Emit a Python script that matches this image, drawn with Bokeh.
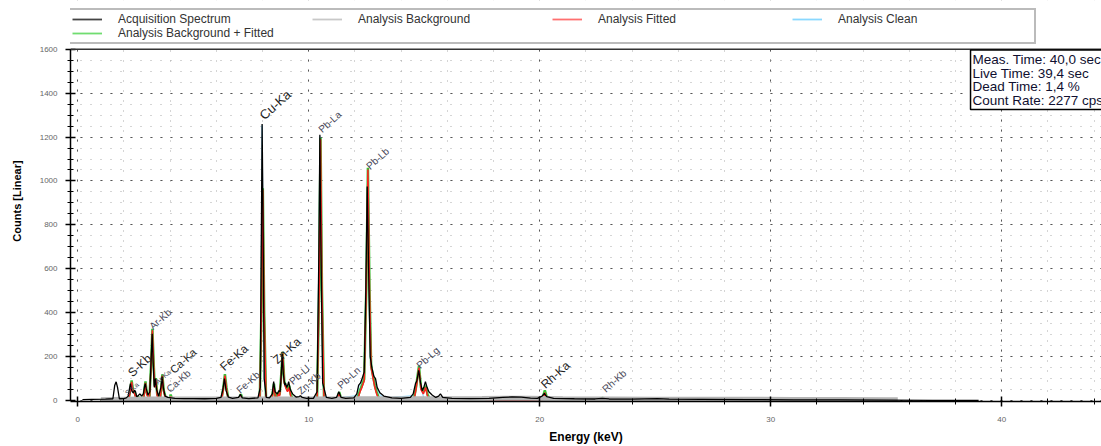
from bokeh.plotting import figure
from bokeh.models import (Range1d, Legend, LegendItem, Label, Span, ColumnDataSource,
                          SingleIntervalTicker)
from bokeh.core.properties import value
from bokeh.embed import file_html
from bokeh.resources import INLINE

# ---------------- measured spectrum (energy in keV, counts) ----------------
acq_keV = [
    0.20, 0.60, 1.20, 1.52, 1.60, 1.66, 1.72, 1.80,
    2.00, 2.10, 2.18, 2.24, 2.28, 2.33, 2.40, 2.46, 2.50, 2.55, 2.62, 2.68, 2.71, 2.76,
    2.84, 2.89, 2.92, 2.96, 3.04, 3.12, 3.18, 3.22, 3.26, 3.31, 3.36, 3.41, 3.50, 3.60,
    3.65, 3.70, 3.78, 3.90, 4.05, 4.20, 4.60,
    5.00, 5.50, 6.00, 6.20, 6.28, 6.35, 6.42, 6.52, 6.70, 6.96, 7.04, 7.12, 7.40, 7.80,
    7.90, 7.95, 7.98, 8.02, 8.07, 8.16, 8.30, 8.42, 8.48, 8.54, 8.64, 8.70, 8.76, 8.81,
    8.85, 8.90, 8.96, 8.99, 9.04, 9.09, 9.13, 9.20, 9.30, 9.45, 9.58, 9.64, 9.72, 9.90,
    10.20, 10.36, 10.44, 10.48, 10.52, 10.60, 10.76, 11.00, 11.20, 11.30, 11.40, 11.60, 11.95,
    12.08, 12.16, 12.24, 12.31, 12.40, 12.47, 12.53, 12.59, 12.66, 12.74, 12.82, 12.89,
    12.96, 13.08, 13.25, 13.60,
    14.00, 14.40, 14.52, 14.62, 14.68, 14.76, 14.84, 14.91, 14.98, 15.05, 15.12, 15.20,
    15.34, 15.50, 15.62, 15.70, 15.80, 16.20,
    17.00, 17.80, 18.40, 18.80, 19.20, 19.60, 19.90, 20.10, 20.20, 20.30, 20.60, 21.50,
    22.40, 22.70, 23.00, 24.00, 25.10, 25.60, 27.00, 29.00, 31.00, 33.00, 35.00, 37.00, 39.00,
]
acq_counts = [
    4, 5, 6, 8, 70, 85, 60, 8,
    9, 12, 20, 55, 77, 45, 35, 47, 40, 18, 22, 30, 28, 20,
    30, 65, 77, 55, 25, 40, 200, 304, 180, 60, 100, 50, 20, 60,
    109, 60, 20, 14, 12, 10, 9,
    9, 8, 10, 14, 50, 100, 45, 15, 10, 14, 28, 12, 9, 12,
    60, 800, 1260, 820, 100, 14, 12, 30, 86, 40, 30, 45, 40, 120,
    213, 120, 70, 80, 60, 70, 86, 50, 30, 16, 18, 22, 14, 10,
    10, 40, 700, 1210, 760, 80, 14, 10, 14, 40, 14, 10, 12,
    30, 70, 80, 100, 130, 500, 975, 600, 200, 145, 110, 100,
    60, 35, 20, 12,
    10, 14, 30, 77, 90, 137, 80, 45, 60, 86, 60, 40,
    25, 14, 20, 30, 14, 10,
    9, 10, 14, 16, 15, 11, 10, 20, 32, 18, 10, 8,
    7, 10, 7, 6, 9, 6, 5, 4, 3, 3, 2, 1, 0,
]

# ---------------- analysis background ----------------
bkg_keV = [1.0, 1.5, 2.0, 3.0, 4.0, 6.0, 8.0, 10.0, 12.0, 14.0, 16.0, 17.5, 18.5,
           19.5, 21.0, 23.0, 25.0, 27.0, 29.0, 31.0, 33.0, 35.0, 35.5]
bkg_counts = [4, 5, 6, 7, 7, 7, 7, 7, 8, 8, 8, 9, 10,
              10, 8, 7, 6, 6, 6, 5, 5, 4, 4]

# ---------------- fitted peaks ----------------
fit_keV = [
    1.00, 2.20, 2.27, 2.33, 2.39, 2.46, 2.52, 2.84, 2.88, 2.93, 2.98, 3.10, 3.17, 3.23,
    3.29, 3.33, 3.38, 3.44, 3.56, 3.61, 3.66, 3.72, 3.82, 3.98, 4.02, 4.08,
    6.22, 6.30, 6.37, 6.44, 6.52, 6.98, 7.06, 7.14,
    7.88, 7.95, 8.01, 8.07, 8.15, 8.40, 8.49, 8.57, 8.62, 8.68, 8.74, 8.80, 8.87, 8.94,
    9.00, 9.08, 9.15, 9.22, 9.32,
    10.36, 10.45, 10.51, 10.57, 10.66, 11.24, 11.32, 11.40,
    12.10, 12.22, 12.30, 12.40, 12.49, 12.56, 12.63, 12.70, 12.77, 12.86, 12.94, 13.05,
    14.55, 14.64, 14.77, 14.86, 14.96, 15.06, 15.14, 15.24,
    20.12, 20.22, 20.32, 22.60, 22.72, 22.84,
]
fit_counts = [
    0, 0, 40, 85, 40, 30, 10, 0, 40, 80, 30, 0, 150, 320,
    150, 60, 95, 20, 0, 50, 112, 40, 0, 0, 20, 0,
    0, 50, 113, 50, 0, 0, 22, 0,
    0, 400, 960, 400, 0, 0, 70, 0, 10, 30, 20, 100, 215, 80,
    60, 40, 60, 20, 0,
    0, 500, 1190, 500, 0, 0, 30, 0,
    0, 40, 60, 90, 500, 1052, 500, 150, 110, 60, 30, 0,
    0, 50, 150, 50, 30, 60, 20, 0,
    0, 36, 0, 0, 5, 0,
]

# ---------------- background + fitted ----------------
bkgfit_keV = fit_keV + [30.0, 35.0]
bkgfit_counts = [
    3, 7, 47, 92, 47, 37, 17, 7, 47, 87, 37, 7, 157, 327,
    157, 67, 102, 27, 7, 57, 119, 47, 7, 7, 27, 7,
    7, 57, 120, 57, 7, 7, 29, 7,
    7, 407, 967, 407, 7, 7, 77, 7, 17, 37, 27, 107, 222, 87,
    67, 47, 67, 27, 7,
    7, 507, 1197, 507, 7, 8, 38, 8,
    8, 48, 68, 98, 508, 1060, 508, 158, 118, 68, 38, 8,
    8, 58, 158, 58, 38, 68, 28, 8,
    10, 46, 10, 7, 12, 7,
    5, 4,
]

# ---------------- clean spectrum (background removed) ----------------
clean_keV = [1.0, 7.80, 7.90, 7.95, 7.98, 8.02, 8.07, 8.16,
             10.20, 10.36, 10.44, 10.48, 10.52, 10.60, 10.76,
             12.08, 12.16, 12.24, 12.31, 12.40, 12.47, 12.53, 12.59, 12.66, 12.74,
             12.82, 12.89, 12.96, 13.08, 13.25,
             14.52, 14.62, 14.68, 14.76, 14.84, 14.91, 15.00, 35.0]
clean_counts = [0, 5, 53, 793, 1253, 813, 93, 7,
                3, 33, 693, 1203, 753, 73, 7,
                22, 62, 72, 92, 122, 492, 967, 592, 192, 137,
                102, 92, 52, 27, 12,
                22, 69, 82, 129, 72, 37, 5, 0]

# ---------------- emission line markers ----------------
line_names = ["S-Ka", "S-Kb", "Ar-Ka", "Ar-Kb", "Ca-Ka", "Ca-Kb", "Fe-Ka", "Fe-Kb",
              "Cu-Ka", "Zn-Ka", "Pb-Ll", "Zn-Kb", "Pb-La", "Pb-Ln", "Pb-Lb", "Pb-Lg",
              "Rh-Ka", "Rh-Kb"]
line_keV = [2.19, 2.45, 3.50, 3.32, 4.23, 4.06, 6.44, 7.09,
            8.17, 8.73, 9.38, 9.73, 10.64, 11.46, 12.71, 14.88,
            20.33, 22.93]
line_counts = [18, 95, 68, 313, 113, 27, 122, 23,
               1265, 154, 63, 18, 1210, 45, 1043, 136,
               41, 27]
line_font_px = [7, 12, 7, 10, 11, 10, 12, 10,
                13, 12, 10, 10, 10, 10, 10, 10,
                12, 10]

info_lines = ["Meas. Time: 40,0 sec", "Live Time: 39,4 sec",
              "Dead Time: 1,4 %", "Count Rate: 2277 cps"]

FONT = "Liberation Sans"
X0, X1 = -0.316, 44.32
Y0, YTOP, Y1 = -4.5, 1600, 1822
NAN = float("nan")

# the frame reaches the top of the canvas; the band above 1600 counts holds the legend
p = figure(width=1101, height=446, output_backend="svg", toolbar_location=None,
           x_range=Range1d(X0, X1), y_range=Range1d(Y0, Y1),
           min_border_left=70, min_border_right=0, min_border_top=0,
           min_border_bottom=43, outline_line_color=None,
           background_fill_color="white", border_fill_color="white")

# axes
p.xaxis.ticker = SingleIntervalTicker(interval=10, num_minor_ticks=5)
p.yaxis.ticker = SingleIntervalTicker(interval=200, num_minor_ticks=4)
p.xgrid.ticker = p.xaxis.ticker
p.ygrid.ticker = p.yaxis.ticker
p.yaxis.bounds = (0, YTOP)
for ax in (p.xaxis, p.yaxis):
    ax.axis_line_color = "black"
    ax.axis_line_width = 1.5
    ax.major_tick_line_color = "black"
    ax.major_tick_line_width = 1.5
    ax.minor_tick_line_color = "black"
    ax.minor_tick_line_width = 1
    ax.major_tick_in = 5
    ax.major_tick_out = 5
    ax.minor_tick_in = 3
    ax.minor_tick_out = 3
    ax.major_label_text_font = FONT
    ax.major_label_text_font_size = "8px"
    ax.major_label_text_color = "#666666"
    ax.axis_label_text_font = FONT
    ax.axis_label_text_font_style = "bold"
    ax.axis_label_text_color = "black"
p.yaxis.major_label_standoff = 8
p.xaxis.major_label_standoff = 10
p.yaxis.axis_label = "Counts [Linear]"
p.yaxis.axis_label_text_font_size = "11px"
p.yaxis.axis_label_standoff = 14
p.xaxis.axis_label = "Energy (keV)"
p.xaxis.axis_label_text_font_size = "12px"
p.xaxis.axis_label_standoff = 5

# dotted grid
for g in (p.xgrid, p.ygrid):
    g.grid_line_color = "#555555"
    g.grid_line_dash = "2 8"
    g.grid_line_width = 1
    g.minor_grid_line_color = "#aaaaaa"
    g.minor_grid_line_dash = "1 9"
    g.minor_grid_line_width = 1

# blank band above the plotting area
p.quad(left=X0, right=X1, bottom=YTOP, top=Y1 + 10, fill_color="white", line_color=None)
p.add_layout(Span(location=YTOP, dimension="width", line_color="#333333", line_width=1.5))

# spectra
p.line(clean_keV, clean_counts, line_color="#7fd4ff", line_width=1.0)
p.line(bkgfit_keV, bkgfit_counts, line_color="#39c239", line_width=2.5)
p.line(fit_keV, fit_counts, line_color="#ff2020", line_width=1.5)
p.line(bkg_keV, bkg_counts, line_color="#b4b4b4", line_width=5)
p.line(acq_keV, acq_counts, line_color="black", line_width=1.3)

# emission line labels
lbl_src = ColumnDataSource(dict(
    x=line_keV, y=line_counts, text=line_names,
    size=[f"{s}px" for s in line_font_px],
    color=["#222222" if s >= 11 else "#4a4a5a" for s in line_font_px],
))
p.text(x="x", y="y", text="text", source=lbl_src, angle=0.73,
       text_font=value(FONT), text_font_size="size", text_color="color",
       text_align="left", text_baseline="bottom")

# acquisition info box
p.add_layout(Label(x=38.65, y=1596, text="\n".join(info_lines),
                   text_font=FONT, text_font_size="13.5px", text_color="#101030",
                   text_baseline="top", text_align="left", text_line_height=0.9,
                   border_line_color="black", border_line_width=1.5,
                   background_fill_color="white", padding=2))

# legend entries (thin sample lines)
legend_specs = [("Acquisition Spectrum", "#444444"),
                ("Analysis Background", "#c8c8c8"),
                ("Analysis Fitted", "#ff7070"),
                ("Analysis Clean", "#8ad8ff"),
                ("Analysis Background + Fitted", "#70dd70")]
items = []
for name, col in legend_specs:
    r = p.line(x=[NAN], y=[NAN], line_color=col, line_width=1.8)
    items.append(LegendItem(label=name, renderers=[r]))

legend = Legend(items=items, location=(-2, 357), orientation="horizontal", ncols=4,
                glyph_width=30, glyph_height=12, label_standoff=16, label_width=194,
                label_height=14, spacing=0, padding=2, margin=0,
                border_line_color="#777777", border_line_width=2,
                background_fill_color="white", background_fill_alpha=1,
                label_text_font=FONT, label_text_font_size="12px",
                label_text_line_height=1.0, label_text_color="#333333")
p.add_layout(legend)

open("out.html", "w").write(file_html(p, INLINE))
